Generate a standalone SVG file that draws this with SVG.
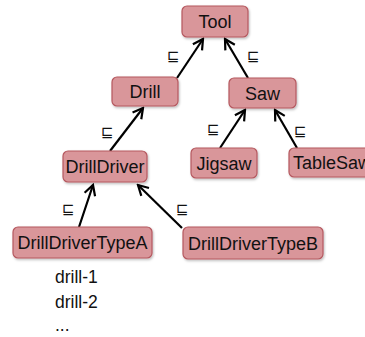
<svg xmlns="http://www.w3.org/2000/svg" width="365" height="337" viewBox="0 0 365 337">
  <defs>
    <marker id="arrow" viewBox="0 0 14 14" refX="12" refY="7" markerWidth="14" markerHeight="14" markerUnits="userSpaceOnUse" orient="auto">
      <path d="M2,1.5 L12,7 L2,12.5" fill="none" stroke="#000" stroke-width="2.2" stroke-linejoin="miter"/>
    </marker>
    <filter id="shadow" x="-10%" y="-20%" width="130%" height="150%">
      <feDropShadow dx="1" dy="1.5" stdDeviation="1" flood-color="#000" flood-opacity="0.25"/>
    </filter>
  </defs>
  <style>
    .box { fill: #d9969a; stroke: #b5585f; stroke-width: 1.2; filter: url(#shadow); }
    .lbl { font-family: "Liberation Sans", Arial, sans-serif; font-size: 18px; fill: #111; text-anchor: middle; }
    .sub { font-family: "DejaVu Sans", sans-serif; font-size: 15px; fill: #111; text-anchor: middle; }
    .inst { font-family: "Liberation Sans", Arial, sans-serif; font-size: 17.5px; fill: #111; }
    .edge { stroke: #000; stroke-width: 2.2; fill: none; marker-end: url(#arrow); }
  </style>
  <rect width="365" height="337" fill="#fff"/>

  <g id="connectors">
    <line class="edge" x1="177" y1="78" x2="203" y2="39"/>
    <line class="edge" x1="248" y1="78" x2="225" y2="39"/>
    <line class="edge" x1="110" y1="151" x2="143" y2="108"/>
    <line class="edge" x1="220" y1="148" x2="245" y2="110"/>
    <line class="edge" x1="297" y1="148" x2="275" y2="110"/>
    <line class="edge" x1="79" y1="227" x2="93" y2="185"/>
    <line class="edge" x1="182" y1="228" x2="138" y2="185"/>
    <text class="sub" x="173" y="61">⊑</text>
    <text class="sub" x="253" y="61">⊑</text>
    <text class="sub" x="107" y="137">⊑</text>
    <text class="sub" x="213" y="134">⊑</text>
    <text class="sub" x="300" y="136">⊑</text>
    <text class="sub" x="68" y="214">⊑</text>
    <text class="sub" x="182" y="214">⊑</text>
  </g>

  <g id="tool">
    <rect class="box" x="182" y="6" width="66" height="31" rx="5"/>
    <text class="lbl" x="215" y="28">Tool</text>
  </g>
  <g id="drill">
    <rect class="box" x="112" y="77" width="66" height="29" rx="5"/>
    <text class="lbl" x="145" y="98">Drill</text>
  </g>
  <g id="saw">
    <rect class="box" x="229" y="78" width="67" height="30" rx="5"/>
    <text class="lbl" x="262.5" y="99.5">Saw</text>
  </g>
  <g id="drilldriver">
    <rect class="box" x="63" y="151" width="84" height="31" rx="5"/>
    <text class="lbl" x="105" y="173">DrillDriver</text>
  </g>
  <g id="jigsaw">
    <rect class="box" x="191" y="148" width="66" height="30" rx="5"/>
    <text class="lbl" x="224" y="169.5">Jigsaw</text>
  </g>
  <g id="tablesaw">
    <rect class="box" x="289" y="148" width="90" height="29" rx="5"/>
    <text class="lbl" x="293" y="169" style="text-anchor:start">TableSaw</text>
  </g>
  <g id="drilldrivertypea">
    <rect class="box" x="13" y="227" width="139" height="31" rx="5"/>
    <text class="lbl" x="82.5" y="249">DrillDriverTypeA</text>
  </g>
  <g id="drilldrivertypeb">
    <rect class="box" x="183" y="227" width="140" height="32" rx="5"/>
    <text class="lbl" x="253" y="249.5">DrillDriverTypeB</text>
  </g>

  <g id="instances">
    <text class="inst" x="55" y="283">drill-1</text>
    <text class="inst" x="55" y="308">drill-2</text>
    <text class="inst" x="55" y="331">...</text>
  </g>
</svg>
